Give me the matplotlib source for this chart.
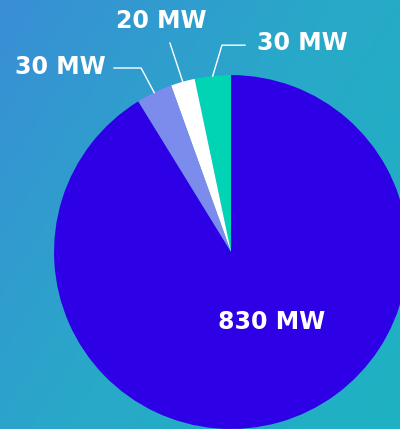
import matplotlib.pyplot as plt
import numpy as np
from matplotlib.colors import LinearSegmentedColormap

labels = ['30 MW', '20 MW', '30 MW', '830 MW']
values = [30, 20, 30, 830]
colors = ['#00d4b4', '#ffffff', '#7b8cec', '#2e00e6']

plt.rcParams['font.family'] = ['DejaVu Sans']

fig = plt.figure(figsize=(4, 4.29), dpi=100)

# gradient background
bg = fig.add_axes([0, 0, 1, 1])
bg.axis('off')
cmap = LinearSegmentedColormap.from_list('bg', ['#3a8ed6', '#28a9c8', '#1eb2c2'])
gx, gy = np.meshgrid(np.linspace(0, 1, 200), np.linspace(0, 1, 200))
grad = 0.6 * gx + 0.4 * gy
bg.imshow(grad, cmap=cmap, aspect='auto', extent=[0, 1, 0, 1], origin='upper')

ax = fig.add_axes([0.135, 0.0, 0.885, 0.825])
wedges, _ = ax.pie(values, colors=colors, startangle=90, counterclock=True,
                   radius=1, wedgeprops=dict(linewidth=0))
ax.set_xlim(-1, 1)
ax.set_ylim(-1, 1)
ax.set_aspect('equal')
ax.axis('off')

# leader lines and outside labels
paths = [
    [(-0.051, 1.169), (0.079, 1.169)],
    [(-0.345, 1.181)],
    [(-0.508, 1.040), (-0.661, 1.040)],
]
text_pos = [(0.145, 1.181, 'left'), (-0.395, 1.305, 'center'), (-0.71, 1.045, 'right')]
for w, pts, (tx, ty, ha), lab in zip(wedges[:3], paths, text_pos, labels[:3]):
    a = np.deg2rad((w.theta1 + w.theta2) / 2)
    xs = [np.cos(a)] + [p[0] for p in pts]
    ys = [np.sin(a)] + [p[1] for p in pts]
    ax.plot(xs, ys, color='white', lw=1, clip_on=False)
    ax.text(tx, ty, lab, ha=ha, va='center', color='white', fontsize=17,
            fontweight='bold')

ax.text(0.232, -0.395, labels[3], ha='center', va='center', color='white',
        fontsize=17, fontweight='bold')

fig.savefig('out.png', dpi=100)
